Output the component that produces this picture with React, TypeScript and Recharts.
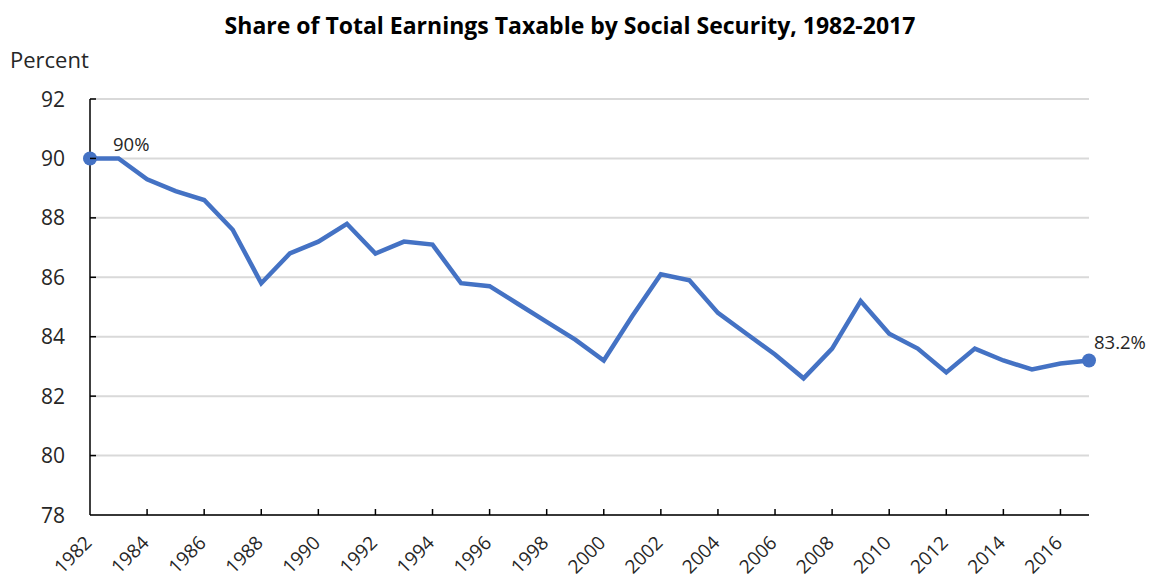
import { LineChart, Line, XAxis, YAxis, CartesianGrid } from "recharts";

const years = [
  1982, 1983, 1984, 1985, 1986, 1987, 1988, 1989, 1990, 1991, 1992, 1993,
  1994, 1995, 1996, 1997, 1998, 1999, 2000, 2001, 2002, 2003, 2004, 2005,
  2006, 2007, 2008, 2009, 2010, 2011, 2012, 2013, 2014, 2015, 2016, 2017,
];

const sharePct = [
  90.0, 90.0, 89.3, 88.9, 88.6, 87.6, 85.8, 86.8, 87.2, 87.8, 86.8, 87.2,
  87.1, 85.8, 85.7, 85.1, 84.5, 83.9, 83.2, 84.7, 86.1, 85.9, 84.8, 84.1,
  83.4, 82.6, 83.6, 85.2, 84.1, 83.6, 82.8, 83.6, 83.2, 82.9, 83.1, 83.2,
];

const xTicks = [
  1982, 1984, 1986, 1988, 1990, 1992, 1994, 1996, 1998, 2000, 2002, 2004,
  2006, 2008, 2010, 2012, 2014, 2016,
];
const yTicks = [78, 80, 82, 84, 86, 88, 90, 92];

const pointLabels = ["90%", "83.2%"];

const data = years.map((year, i) => ({ year, share: sharePct[i] }));

const FONT = "'Open Sans', 'Noto Sans', sans-serif";
const BLUE = "#4472C4";
const TEXT = "#262626";

const XTick = (props: any) => {
  const { x, y, payload } = props;
  return (
    <g>
      {payload.value !== 1982 && (
        <line x1={x} y1={y} x2={x} y2={y - 6} stroke="#000" strokeWidth={1.5} />
      )}
      <text
        x={x + 3}
        y={y + 29}
        textAnchor="end"
        fontSize={19}
        fontFamily={FONT}
        fill={TEXT}
        transform={`rotate(-45 ${x + 3} ${y + 29})`}
      >
        {payload.value}
      </text>
    </g>
  );
};

const YTick = (props: any) => {
  const { x, y, payload } = props;
  return (
    <g>
      {payload.value !== 78 && (
        <line x1={x} y1={y} x2={x + 6} y2={y} stroke="#000" strokeWidth={1.5} />
      )}
      <text
        x={x - 25}
        y={y + 7.5}
        textAnchor="end"
        fontSize={21}
        fontFamily={FONT}
        fill={TEXT}
      >
        {payload.value}
      </text>
    </g>
  );
};

const EndDot = (props: any) => {
  const { cx, cy, index } = props;
  if (index !== 0 && index !== data.length - 1) return <g key={index} />;
  return <circle key={index} cx={cx} cy={cy} r={7} fill={BLUE} />;
};

const EndLabel = (props: any) => {
  const { x, y, index } = props;
  if (index === 0)
    return (
      <text key={index} x={x + 23} y={y - 7} fontSize={18.5} fontFamily={FONT} fill={TEXT}>
        {pointLabels[0]}
      </text>
    );
  if (index === data.length - 1)
    return (
      <text key={index} x={x + 5} y={y - 11} fontSize={18.5} fontFamily={FONT} fill={TEXT}>
        {pointLabels[1]}
      </text>
    );
  return <g key={index} />;
};

export default function App() {
  return (
    <div style={{ position: "absolute", left: 0, top: 0, width: 1154, height: 582, background: "#fff" }}>
      <div
        style={{
          position: "absolute",
          left: 0,
          top: 9,
          width: 1140,
          textAlign: "center",
          fontFamily: FONT,
          fontWeight: 700,
          fontSize: 23,
          color: "#000",
          whiteSpace: "nowrap",
        }}
      >
        Share of Total Earnings Taxable by Social Security, 1982-2017
      </div>
      <div
        style={{
          position: "absolute",
          left: 10,
          top: 44,
          fontFamily: FONT,
          fontSize: 22,
          color: TEXT,
        }}
      >
        Percent
      </div>
      <LineChart
        width={1154}
        height={582}
        data={data}
        margin={{ top: 99, right: 65, bottom: 0, left: 0 }}
      >
        <CartesianGrid vertical={false} stroke="#d9d9d9" strokeWidth={2} />
        <XAxis
          dataKey="year"
          type="number"
          domain={[1982, 2017]}
          ticks={xTicks}
          interval={0}
          height={67}
          tickSize={0}
          tickMargin={0}
          stroke="#000"
          strokeWidth={1.5}
          tick={<XTick />}
        />
        <YAxis
          domain={[78, 92]}
          ticks={yTicks}
          interval={0}
          width={90}
          tickSize={0}
          tickMargin={0}
          stroke="#000"
          strokeWidth={1.5}
          tick={<YTick />}
        />
        <Line
          type="linear"
          dataKey="share"
          stroke={BLUE}
          strokeWidth={4.5}
          dot={<EndDot />}
          activeDot={false}
          label={<EndLabel />}
          isAnimationActive={false}
        />
      </LineChart>
    </div>
  );
}
